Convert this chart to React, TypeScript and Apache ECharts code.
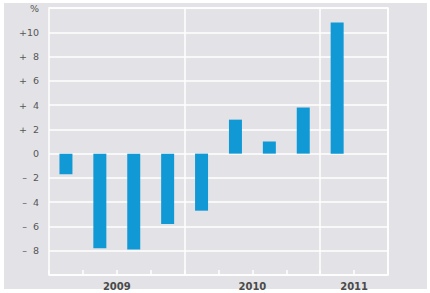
import React, { useEffect, useRef } from "react";
import * as echarts from "echarts";

const categories = ["2009Q1", "2009Q2", "2009Q3", "2009Q4", "2010Q1", "2010Q2", "2010Q3", "2010Q4", "2011Q1", "2011Q2"];
const values: (number | null)[] = [-1.7, -7.8, -7.9, -5.8, -4.7, 2.8, 1.0, 3.8, 10.8, null];
const yearLabels: Record<number, string> = { 2: "2009", 6: "2010", 9: "2011" };
const yearBoundaries = [4, 8];

export default function App() {
  const ref = useRef<HTMLDivElement>(null);
  useEffect(() => {
    if (!ref.current) return;
    const chart = echarts.init(ref.current, null, { renderer: "svg" });
    chart.setOption({
      animation: false,
      backgroundColor: "#ffffff",
      graphic: [
        {
          type: "rect",
          z: -10,
          shape: { x: 4, y: 3, width: 423, height: 286 },
          style: { fill: "#e3e3e7" },
          silent: true,
        },
      ],
      grid: {
        left: 49,
        top: 8,
        right: 42,
        bottom: 18,
        show: true,
        backgroundColor: "#e3e3e7",
        borderColor: "#ffffff",
        borderWidth: 1.5,
      },
      xAxis: [
        {
          type: "category",
          data: categories,
          boundaryGap: true,
          position: "bottom",
          z: 5,
          axisLine: { show: false, onZero: false },
          axisTick: { show: true, interval: 0, inside: true, length: 5, lineStyle: { color: "#ffffff", width: 1.5 } },
          axisLabel: { show: false, interval: 0 },
          splitLine: {
            show: true,
            interval: (index: number) => yearBoundaries.includes(index),
            lineStyle: { color: "#ffffff", width: 1.5 },
          },
        },
        {
          type: "value",
          position: "bottom",
          min: 0,
          max: 10,
          interval: 1,
          axisLine: { show: false, onZero: false },
          axisTick: { show: false },
          splitLine: { show: false },
          axisLabel: {
            show: true,
            margin: 6,
            fontFamily: "DejaVu Sans",
            fontSize: 10,
            fontWeight: "bold",
            color: "#4a4a4a",
            formatter: (v: number) => yearLabels[v] || "",
          },
        },
      ],
      yAxis: {
        type: "value",
        min: -10,
        max: 12,
        interval: 2,
        axisLine: { show: false },
        axisTick: { show: false },
        splitLine: { show: true, lineStyle: { color: "#ffffff", width: 1.5 } },
        axisLabel: {
          margin: 10,
          fontFamily: "DejaVu Sans",
          fontSize: 9.5,
          color: "#555555",
          formatter: (v: number) => {
            if (v === 12) return "%";
            if (v === -10) return "";
            if (v === 0) return "0";
            if (v > 0) return v >= 10 ? "+" + v : "+  " + v;
            return "–  " + -v;
          },
        },
      },
      series: [
        {
          type: "bar",
          xAxisIndex: 0,
          data: values,
          barWidth: 13,
          itemStyle: { color: "#1199d6" },
        },
      ],
    });
    return () => chart.dispose();
  }, []);
  return <div ref={ref} style={{ position: "fixed", left: 0, top: 0, width: 430, height: 293 }} />;
}
